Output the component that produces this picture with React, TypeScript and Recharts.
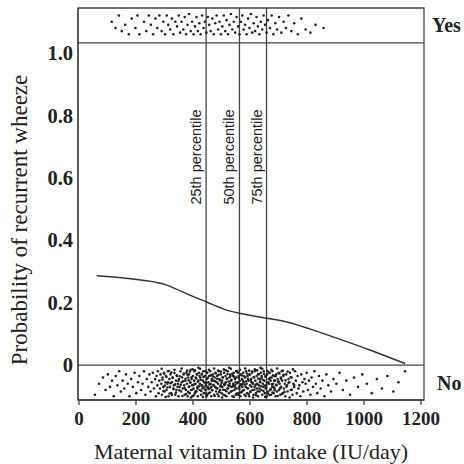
import React from "react"
import { ComposedChart, Line, Scatter, XAxis, YAxis, ReferenceLine, ReferenceArea } from "recharts"

// Fitted probability of recurrent wheeze vs maternal vitamin D intake
const curve = [
  { x: 62, p: 0.286 },
  { x: 132, p: 0.281 },
  { x: 237, p: 0.27 },
  { x: 308, p: 0.256 },
  { x: 389, p: 0.224 },
  { x: 446, p: 0.203 },
  { x: 506, p: 0.18 },
  { x: 563, p: 0.166 },
  { x: 658, p: 0.15 },
  { x: 729, p: 0.138 },
  { x: 822, p: 0.112 },
  { x: 939, p: 0.075 },
  { x: 1021, p: 0.048 },
  { x: 1144, p: 0.005 },
]

const percentiles = [
  { name: "25th percentile", x: 446 },
  { name: "50th percentile", x: 563 },
  { name: "75th percentile", x: 658 },
]

const xTicks = [0, 200, 400, 600, 800, 1000, 1200]
const yTicks = [0, 0.2, 0.4, 0.6, 0.8, 1.0]

// jittered observations, "Yes" strip (outcome = 1)
const yesPts = [
  [115,1.1],[128,1.08],[140,1.12],[150,1.07],[162,1.09],[175,1.06],[185,1.11],[198,1.08],[205,1.12],[212,1.06],
  [228,1.1],[236,1.07],[245,1.12],[252,1.09],[260,1.06],[268,1.11],[275,1.08],[282,1.12],[290,1.07],[296,1.1],
  [302,1.06],[308,1.12],[313,1.09],[320,1.075],[326,1.11],[331,1.06],[338,1.1],[344,1.085],[350,1.12],[355,1.065],
  [360,1.1],[366,1.075],[371,1.115],[376,1.06],[381,1.09],[386,1.125],[392,1.07],[397,1.1],[402,1.06],[407,1.085],
  [412,1.115],[417,1.07],[422,1.095],[427,1.06],[432,1.12],[437,1.08],[442,1.1],[447,1.065],[452,1.115],[457,1.09],
  [462,1.07],[468,1.11],[473,1.06],[478,1.095],[483,1.12],[488,1.075],[493,1.1],[498,1.06],[503,1.085],[508,1.12],
  [513,1.07],[518,1.105],[523,1.06],[528,1.09],[533,1.125],[538,1.075],[543,1.1],[548,1.065],[553,1.115],[558,1.085],
  [563,1.06],[568,1.1],[573,1.12],[578,1.075],[583,1.09],[588,1.06],[593,1.11],[598,1.08],[603,1.125],[608,1.065],
  [613,1.095],[618,1.07],[623,1.115],[628,1.085],[633,1.06],[638,1.1],[643,1.075],[648,1.12],[653,1.09],[658,1.065],
  [663,1.105],[670,1.08],[676,1.12],[682,1.06],[689,1.095],[695,1.075],[702,1.115],[710,1.065],[718,1.1],[726,1.08],
  [735,1.12],[745,1.07],[755,1.095],[768,1.06],[780,1.11],[795,1.075],[812,1.065],[830,1.09],[858,1.08],
]

// jittered observations, "No" strip (outcome = 0), whole range
const noPts = [
  [56,-.095],[70,-.06],[84,-.04],[93,-.08],[101,-.03],[109,-.07],[116,-.05],[122,-.1],[129,-.035],[135,-.065],
  [141,-.02],[147,-.085],[153,-.05],[159,-.075],[165,-.03],[171,-.06],[177,-.1],[183,-.045],[189,-.07],[195,-.025],
  [201,-.09],[207,-.055],[212,-.035],[218,-.08],[223,-.06],[228,-.02],[233,-.095],[238,-.045],[243,-.07],[247,-.03],
  [251,-.085],[255,-.055],[259,-.025],[263,-.075],[267,-.045],
  [270,-.1],[272,-.035],[275,-.065],[277,-.02],[279,-.09],[282,-.05],[284,-.075],[286,-.03],[289,-.06],[291,-.095],
  [293,-.04],[296,-.07],[298,-.025],[300,-.085],[303,-.055],[305,-.035],[307,-.08],[310,-.06],[312,-.02],[314,-.1],
  [317,-.045],[319,-.07],[321,-.03],[324,-.09],[326,-.055],[328,-.04],[331,-.075],[333,-.065],[335,-.025],[338,-.095],
  [340,-.05],[342,-.08],[344,-.035],[347,-.06],[349,-.1],[351,-.045],[353,-.07],[356,-.02],[358,-.085],[360,-.055],
  [362,-.04],[364,-.075],[367,-.03],[369,-.065],[371,-.095],[373,-.05],[375,-.08],[377,-.025],[379,-.06],[381,-.1],
  [383,-.04],[385,-.07],[386,-.03],[388,-.09],[390,-.055],[392,-.015],[393,-.08],[395,-.045],[397,-.065],[398,-.1],
  [400,-.035],[402,-.075],[404,-.05],[405,-.02],[407,-.09],[409,-.06],[410,-.04],[412,-.085],[414,-.03],[416,-.07],
  [417,-.1],[419,-.05],[421,-.025],[423,-.08],[424,-.06],[426,-.04],[428,-.095],[430,-.065],[431,-.03],[433,-.075],
  [435,-.05],[436,-.02],[438,-.09],[440,-.055],[442,-.035],[443,-.08],[445,-.065],[447,-.1],[448,-.045],[450,-.025],
  [452,-.07],[454,-.055],[455,-.09],[457,-.035],[459,-.075],[460,-.02],[462,-.06],[464,-.1],[466,-.045],[467,-.08],
  [469,-.03],[471,-.065],[472,-.05],[474,-.095],[476,-.04],[478,-.07],[479,-.025],[481,-.085],[483,-.055],[485,-.035],
  [486,-.075],[488,-.06],[490,-.1],[491,-.02],[493,-.045],[495,-.08],[497,-.065],[498,-.03],[500,-.09],[502,-.05],
  [503,-.07],[505,-.04],[507,-.095],[509,-.025],[510,-.06],[512,-.08],[514,-.035],[515,-.055],[517,-.1],[519,-.045],
  [521,-.075],[522,-.02],[524,-.065],[526,-.09],[528,-.04],[529,-.06],[531,-.03],[533,-.085],[534,-.05],[536,-.07],
  [538,-.1],[540,-.035],[541,-.06],[543,-.025],[545,-.08],[547,-.045],[548,-.065],[550,-.095],[552,-.04],[553,-.075],
  [555,-.02],[557,-.055],[559,-.09],[560,-.035],[562,-.07],[564,-.05],[566,-.1],[567,-.03],[569,-.065],[571,-.085],
  [572,-.045],[574,-.06],[576,-.025],[578,-.08],[579,-.055],[581,-.095],[583,-.04],[585,-.07],[586,-.02],[588,-.06],
  [590,-.09],[591,-.035],[593,-.075],[595,-.05],[597,-.1],[598,-.03],[600,-.065],[602,-.085],[604,-.045],[605,-.055],
  [607,-.025],[609,-.08],[610,-.06],[612,-.095],[614,-.04],[616,-.07],[617,-.02],[619,-.05],[621,-.09],[623,-.035],
  [624,-.075],[626,-.06],[628,-.1],[629,-.03],[631,-.065],[633,-.085],[635,-.045],[636,-.055],[638,-.025],[640,-.08],
  [641,-.04],[643,-.095],[645,-.06],[647,-.07],[648,-.02],[650,-.05],[652,-.09],[654,-.035],[655,-.075],[657,-.065],
  [659,-.1],[660,-.03],[662,-.055],[664,-.085],[666,-.045],[667,-.06],[669,-.025],[671,-.08],[672,-.05],[674,-.095],
  [676,-.04],[678,-.07],[679,-.02],[681,-.06],[683,-.09],[685,-.035],[686,-.075],[688,-.05],[690,-.1],[692,-.03],
  [693,-.065],[695,-.085],[697,-.045],[699,-.055],[700,-.025],[702,-.08],[704,-.06],[706,-.095],[708,-.04],[709,-.07],
  [711,-.02],[713,-.05],[715,-.09],[717,-.035],[719,-.075],
  [722,-.06],[724,-.1],[727,-.03],[730,-.065],[732,-.085],[735,-.045],[738,-.055],[740,-.025],[743,-.08],[746,-.04],
  [749,-.095],[752,-.06],[755,-.07],[758,-.02],[761,-.05],[764,-.09],[767,-.035],[770,-.075],[773,-.065],[777,-.1],
  [780,-.03],[784,-.055],[787,-.085],[791,-.045],[795,-.06],[799,-.025],[803,-.08],[807,-.05],[812,-.095],[816,-.04],
  [821,-.07],[826,-.02],[831,-.06],[836,-.09],[842,-.035],[848,-.075],[854,-.05],[861,-.1],[868,-.03],[875,-.065],
  [884,-.085],[893,-.045],[903,-.06],[914,-.025],[926,-.08],[938,-.05],[951,-.095],[965,-.04],[979,-.07],[994,-.03],
  [1010,-.06],[1027,-.09],[1045,-.045],[1063,-.075],[1082,-.035],[1103,-.085],[1121,-.055],[1144,-.02],
]

// extra "No" observations where intake is most common (the dark band)
const noCore = [
  [290,-.012],[293,-.047],[296,-.083],[299,-.028],[301,-.066],[304,-.102],[307,-.038],[310,-.072],[312,-.055],[315,-.019],[318,-.091],
  [321,-.058],[324,-.024],[326,-.096],[329,-.041],[332,-.077],[335,-.015],[337,-.062],[340,-.088],[343,-.033],[346,-.07],[349,-.05],
  [352,-.081],[354,-.036],[357,-.063],[360,-.011],[363,-.099],[365,-.052],[368,-.027],[371,-.074],[374,-.044],[376,-.093],[379,-.018],
  [381,-.031],[383,-.086],[385,-.049],[387,-.069],[389,-.021],[391,-.057],[393,-.104],[395,-.039],[397,-.079],[399,-.014],[401,-.064],
  [403,-.097],[405,-.061],[407,-.017],[409,-.084],[411,-.043],[413,-.029],[415,-.075],[417,-.053],[419,-.009],[421,-.068],[423,-.035],
  [425,-.012],[427,-.047],[429,-.083],[431,-.028],[433,-.066],[435,-.102],[437,-.038],[439,-.072],[441,-.055],[443,-.019],[445,-.091],
  [446,-.058],[448,-.024],[450,-.096],[452,-.041],[454,-.077],[456,-.015],[458,-.062],[460,-.088],[462,-.033],[464,-.07],[466,-.05],
  [468,-.081],[470,-.036],[472,-.063],[474,-.011],[476,-.099],[478,-.052],[480,-.027],[482,-.074],[484,-.044],[486,-.093],[488,-.018],
  [490,-.031],[492,-.086],[494,-.049],[496,-.069],[498,-.021],[500,-.057],[502,-.104],[504,-.039],[506,-.079],[508,-.014],[510,-.064],
  [511,-.097],[513,-.061],[515,-.017],[517,-.084],[519,-.043],[521,-.029],[523,-.075],[525,-.053],[527,-.009],[529,-.068],[531,-.035],
  [533,-.012],[535,-.047],[537,-.083],[539,-.028],[541,-.066],[543,-.102],[545,-.038],[547,-.072],[549,-.055],[551,-.019],[553,-.091],
  [555,-.058],[557,-.024],[559,-.096],[561,-.041],[563,-.077],[565,-.015],[567,-.062],[569,-.088],[571,-.033],[573,-.07],[575,-.05],
  [577,-.081],[579,-.036],[581,-.063],[583,-.011],[585,-.099],[587,-.052],[589,-.027],[591,-.074],[593,-.044],[595,-.093],[597,-.018],
  [599,-.031],[601,-.086],[603,-.049],[605,-.069],[607,-.021],[609,-.057],[611,-.104],[613,-.039],[615,-.079],[617,-.014],[619,-.064],
  [621,-.097],[623,-.061],[625,-.017],[627,-.084],[629,-.043],[631,-.029],[633,-.075],[635,-.053],[637,-.009],[639,-.068],[641,-.035],
  [643,-.012],[645,-.047],[647,-.083],[649,-.028],[651,-.066],[653,-.102],[655,-.038],[657,-.072],[659,-.055],[661,-.019],[663,-.091],
  [665,-.058],[667,-.024],[669,-.096],[671,-.041],[673,-.077],[675,-.015],[677,-.062],[679,-.088],[681,-.033],[683,-.07],[685,-.05],
  [687,-.081],[690,-.036],[692,-.063],[695,-.011],[697,-.099],[700,-.052],[703,-.027],[706,-.074],[709,-.044],[712,-.093],[715,-.018],
  [718,-.031],[721,-.086],[725,-.049],[728,-.069],[732,-.021],[735,-.057],[739,-.104],[743,-.039],[747,-.079],[751,-.014],[755,-.064],
]

const X_DOMAIN = [-3.5, 1210.5]
const Y_DOMAIN = [-0.112, 1.144]
const STRIP_TOP = 1.032 // lower edge of the "Yes" strip
const SERIF = '"Liberation Serif", "Times New Roman", serif'
const SANS = '"Liberation Sans", Arial, sans-serif'
const INK = "#222"
const FRAME = "#444"

const yesData = yesPts.map(([x, y]) => ({ x, y }))
const noData = noPts.concat(noCore).map(([x, y]) => ({ x, y }))

const Dot = (props: any) => <circle cx={props.cx} cy={props.cy} r={1.3} fill="#222" />

const PercentileLabel = ({ viewBox, text }: any) => {
  const x = viewBox.x - 5
  const y = 157
  return (
    <text
      x={x}
      y={y}
      transform={`rotate(-90, ${x}, ${y})`}
      textAnchor="middle"
      fontFamily={SANS}
      fontSize={14.5}
      fill={INK}
    >
      {text}
    </text>
  )
}

const XTitle = ({ viewBox }: any) => (
  <text x={viewBox.x + viewBox.width / 2} y={viewBox.y + 59} textAnchor="middle" fontFamily={SERIF} fontSize={22} fill={INK}>
    Maternal vitamin D intake (IU/day)
  </text>
)

const YTitle = () => (
  <text x={27} y={220} transform="rotate(-90, 27, 220)" textAnchor="middle" fontFamily={SERIF} fontSize={23} fontWeight="normal" fill={INK}>
    Probability of recurrent wheeze
  </text>
)

const OutcomeTick = ({ x, y, payload }: any) => {
  const isYes = payload.value > 0.5
  return (
    <text x={x + (isYes ? 6 : 11)} y={y} dy="0.35em" textAnchor="start" fontFamily={SERIF} fontSize={20} fontWeight="bold" fill={INK}>
      {isYes ? "Yes" : "No"}
    </text>
  )
}

export default function App() {
  const xTickStyle = { fontFamily: SERIF, fontSize: 19, fontWeight: "bold", fill: INK }
  const yTickStyle = { fontFamily: SERIF, fontSize: 20.5, fontWeight: "bold", fill: INK }
  return (
    <div style={{ position: "absolute", left: 0, top: 0, width: 464, height: 464, background: "#fff" }}>
      <ComposedChart width={464} height={464} margin={{ top: 8, right: 0, bottom: 0, left: 0 }}>
        <XAxis
          dataKey="x"
          type="number"
          domain={X_DOMAIN}
          ticks={xTicks}
          allowDataOverflow
          height={64}
          tickSize={5}
          tickMargin={7}
          tick={xTickStyle}
          axisLine={{ stroke: FRAME, strokeWidth: 1.3 }}
          tickLine={{ stroke: FRAME, strokeWidth: 1.3 }}
          label={<XTitle />}
        />
        <YAxis
          yAxisId="p"
          type="number"
          domain={Y_DOMAIN}
          ticks={yTicks}
          allowDataOverflow
          width={78}
          tickSize={0}
          tickMargin={5}
          tickLine={false}
          tick={yTickStyle}
          tickFormatter={(v: number) => (v === 0 ? "0" : v.toFixed(1))}
          axisLine={{ stroke: FRAME, strokeWidth: 1.3 }}
          label={<YTitle />}
        />
        <YAxis
          yAxisId="outcome"
          orientation="right"
          type="number"
          domain={Y_DOMAIN}
          ticks={[-0.056, 1.088]}
          allowDataOverflow
          width={40}
          tickSize={0}
          tickLine={false}
          axisLine={false}
          tick={<OutcomeTick />}
        />
        <ReferenceArea
          yAxisId="p"
          x1={X_DOMAIN[0]}
          x2={X_DOMAIN[1]}
          y1={Y_DOMAIN[0]}
          y2={Y_DOMAIN[1]}
          fill="none"
          stroke={FRAME}
          strokeWidth={1.3}
        />
        <ReferenceLine yAxisId="p" y={0} stroke={FRAME} strokeWidth={1.3} />
        <ReferenceLine yAxisId="p" y={STRIP_TOP} stroke={FRAME} strokeWidth={1.3} />
        {percentiles.map((pc) => (
          <ReferenceLine
            key={pc.name}
            yAxisId="p"
            x={pc.x}
            stroke={FRAME}
            strokeWidth={1.3}
            label={<PercentileLabel text={pc.name} />}
          />
        ))}
        <Scatter yAxisId="p" data={yesData} dataKey="y" shape={<Dot />} isAnimationActive={false} />
        <Scatter yAxisId="p" data={noData} dataKey="y" shape={<Dot />} isAnimationActive={false} />
        <Line
          yAxisId="p"
          data={curve}
          dataKey="p"
          type="natural"
          stroke="#333"
          strokeWidth={1.5}
          dot={false}
          isAnimationActive={false}
        />
      </ComposedChart>
    </div>
  )
}
